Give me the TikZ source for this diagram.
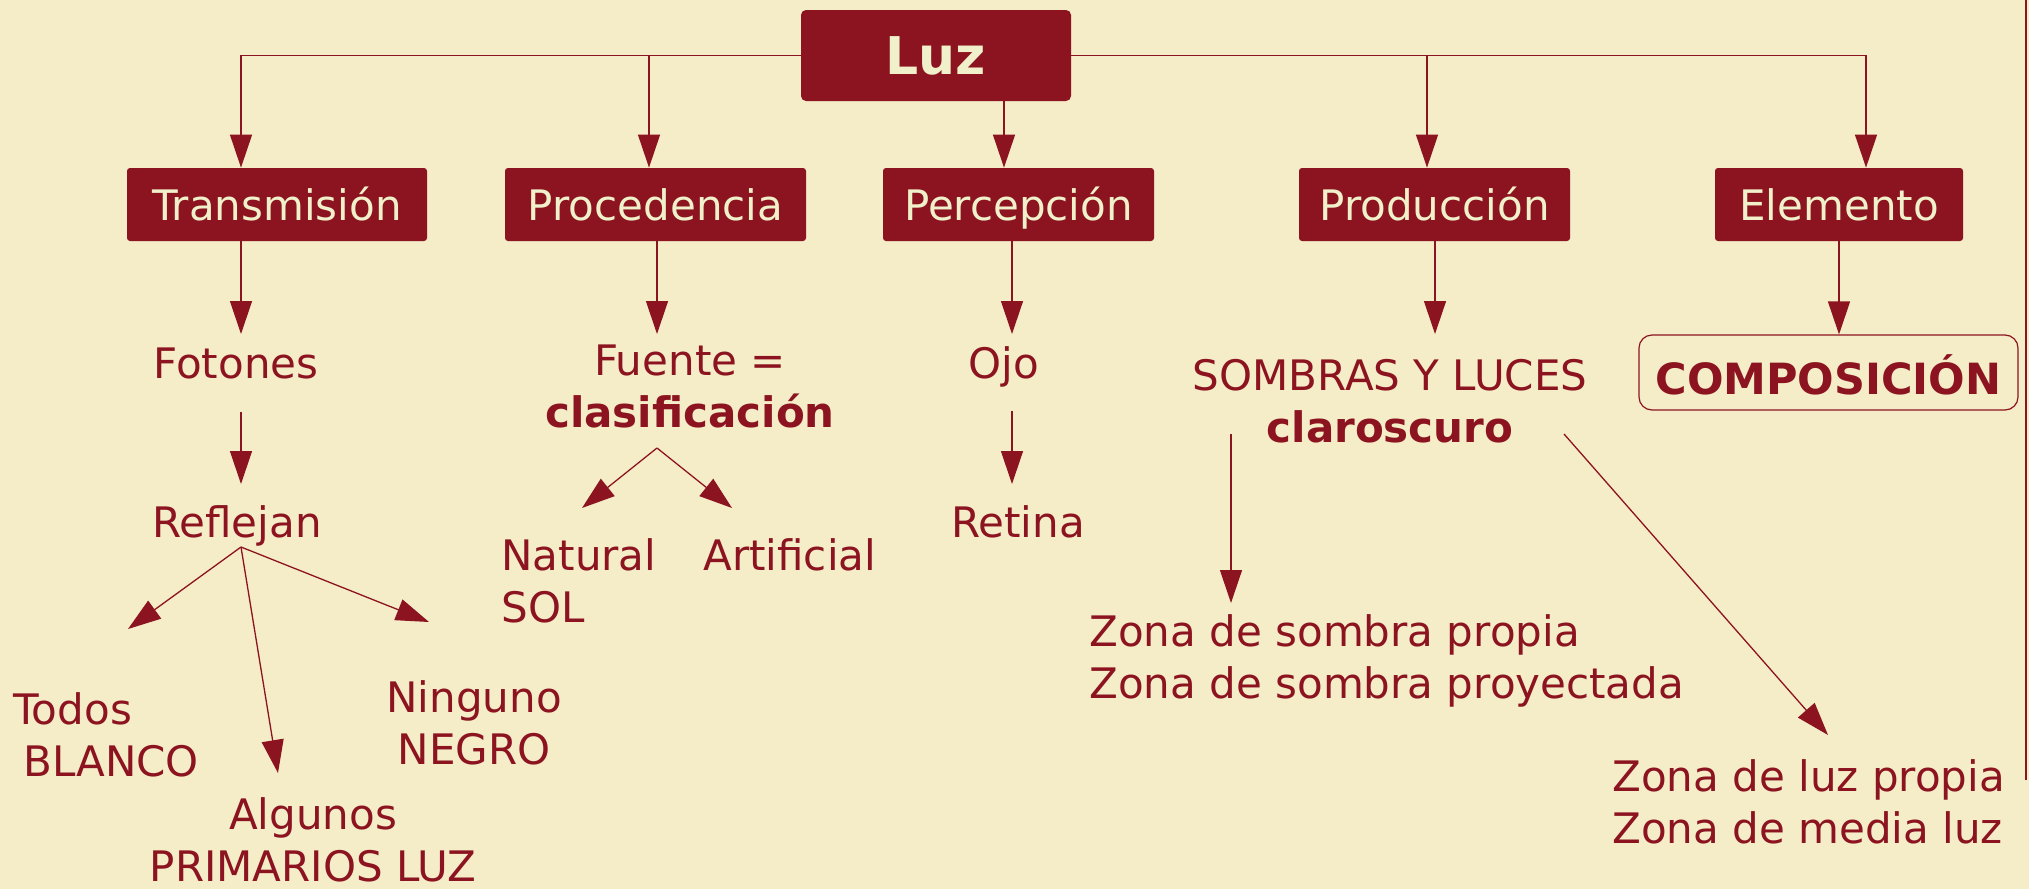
\documentclass[tikz,border=0pt]{standalone}
\usepackage{fontspec}
\setmainfont{DejaVu Sans}
\usetikzlibrary{arrows.meta,positioning}
\definecolor{fondo}{RGB}{245,236,200}
\definecolor{granate}{RGB}{140,20,32}
\definecolor{crema}{RGB}{240,240,202}
\newcommand{\letra}{\fontsize{21}{26}\selectfont}

\begin{document}
\begin{tikzpicture}[x=0.5pt,y=-0.5pt,
    >={Triangle[length=16.5pt,width=11pt]},
    caja/.style={fill=granate, text=crema, rounded corners=1.5pt, minimum height=36.5pt,
      inner sep=0pt, text height=15.5pt, text depth=0pt, font=\letra},
    texto/.style={text=granate, inner sep=0pt, font=\letra},
    linea/.style={draw=granate, line width=0.65pt}]
  \useasboundingbox (0,0) rectangle (2029,889);
  \fill[fondo] (0,0) rectangle (2029,889);
  \draw[granate, line width=1pt] (2026,0) -- (2026,780);

  % raiz y primer nivel
  \node[caja, rounded corners=2.5pt, minimum width=135pt, minimum height=45.5pt,
        text height=19pt, font=\fontsize{26}{30}\selectfont\bfseries] (luz) at (936,55.5) {Luz};
  \node[caja, minimum width=150pt] (trans) at (277,204.5) {Transmisión};
  \node[caja, minimum width=150.5pt] (proc) at (655.5,204.5) {Procedencia};
  \node[caja, minimum width=135.5pt] (perc) at (1018.5,204.5) {Percepción};
  \node[caja, minimum width=135.5pt] (prod) at (1434.5,204.5) {Producción};
  \node[caja, minimum width=124pt] (elem) at (1839,204.5) {Elemento};

  \draw[linea,->] (luz.west) -| ([xshift=-18pt]trans.north);
  \draw[linea,->] (luz.west) -| ([xshift=-3.25pt]proc.north);
  \draw[linea,->] ([xshift=34pt]luz.south) -- ([xshift=34pt]luz.south |- perc.north);
  \draw[linea,->] (luz.east) -| ([xshift=-3.75pt]prod.north);
  \draw[linea,->] (luz.east) -| ([xshift=13.5pt]elem.north);

  % segundo nivel
  \node[texto, anchor=base] (fot) at (236,378) {Fotones};
  \node[texto, anchor=base, align=center] (fuente) at (690,427) {Fuente =\\\textbf{clasificación}};
  \node[texto, anchor=base] (ojo) at (1004,378) {Ojo};
  \node[texto, anchor=base, align=center] (sombras) at (1390,442) {SOMBRAS Y LUCES\\\textbf{claroscuro}};
  \node[draw=granate, line width=0.6pt, rounded corners=6.5pt, text=granate, inner sep=0pt,
        minimum width=189.5pt, minimum height=37.5pt, text height=21.5pt, text depth=0pt,
        font=\fontsize{21.5}{26}\selectfont\bfseries] (comp) at (1828.5,372.5) {COMPOSICIÓN};

  \coordinate (tFot) at (241,334);
  \coordinate (tFue) at (657,334);
  \coordinate (tOjo) at (1012,334);
  \coordinate (tSom) at (1435,334);
  \draw[linea,->] (trans.south -| tFot) -- (tFot);
  \draw[linea,->] (proc.south -| tFue) -- (tFue);
  \draw[linea,->] (perc.south -| tOjo) -- (tOjo);
  \draw[linea,->] (prod.south -| tSom) -- (tSom);
  \draw[linea,->] (elem.south) -- (elem.south |- comp.north);

  % tercer nivel
  \node[texto, anchor=base] (refl) at (237,537) {Reflejan};
  \node[texto, anchor=base] (ret) at (1018,537) {Retina};
  \node[texto, anchor=base west, align=left] (nat) at (501,622) {Natural\\SOL};
  \node[texto, anchor=base west] (art) at (703,570) {Artificial};
  \node[texto, anchor=base west, align=left] (todos) at (13,776) {Todos\\\hspace*{5pt}BLANCO};
  \node[texto, anchor=base, align=center] (alg) at (313,881) {Algunos\\PRIMARIOS LUZ};
  \node[texto, anchor=base, align=center] (ning) at (474,764) {Ninguno\\NEGRO};
  \node[texto, anchor=base west, align=left] (zsombra) at (1089,698) {Zona de sombra propia\\Zona de sombra proyectada};
  \node[texto, anchor=base west, align=left] (zluz) at (1612,843) {Zona de luz propia\\Zona de media luz};

  \coordinate (tRef) at (241,484);
  \coordinate (tRet) at (1012,484);
  \draw[linea,->,shorten <=16.5pt] (fot.south -| tFot) -- (tRef);
  \draw[linea,->,shorten <=12pt] (ojo.south -| tOjo) -- (tRet);

  \coordinate (bRef) at (241,547);
  \coordinate (tTodos) at (128,629);
  \coordinate (tAlg) at (278,773);
  \coordinate (tNing) at (429,622);
  \draw[linea,->] (bRef) -- (tTodos);
  \draw[linea,->] (bRef) -- (tAlg);
  \draw[linea,->] (bRef) -- (tNing);

  \coordinate (bFue) at (657,448);
  \coordinate (tNat) at (582,508);
  \coordinate (tArt) at (732,508);
  \draw[linea,->] (bFue) -- (tNat);
  \draw[linea,->] (bFue) -- (tArt);

  \coordinate (bSomIzq) at (1231,434);
  \coordinate (tSomIzq) at (1231,603);
  \coordinate (bSomDer) at (1564,434);
  \coordinate (tSomDer) at (1828,735);
  \draw[linea,->] (bSomIzq) -- (tSomIzq);
  \draw[linea,->] (bSomDer) -- (tSomDer);
\end{tikzpicture}
\end{document}
